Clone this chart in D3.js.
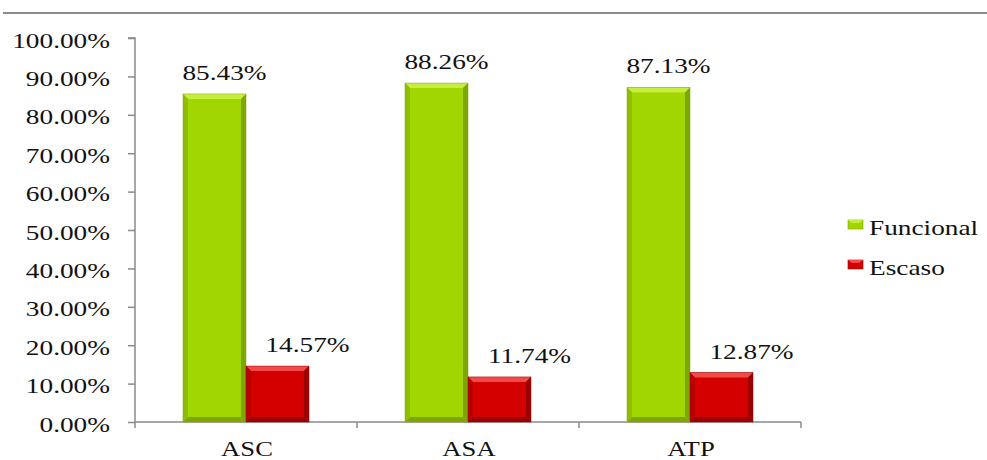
<!DOCTYPE html>
<html>
<head>
<meta charset="utf-8">
<script src="https://cdn.jsdelivr.net/npm/d3@7"></script>
<style>
  html, body { margin: 0; padding: 0; background: #fff; }
  svg { display: block; }
  svg text { font-family: "Times New Roman", "Liberation Serif", Tinos, serif !important; fill: #111; }
</style>
</head>
<body>
<svg id="chart" width="987" height="460"></svg>
<script>
// Data
const categories = ["ASC", "ASA", "ATP"];
const seriesNames = ["Funcional", "Escaso"];
const funcional = [85.43, 88.26, 87.13];
const escaso = [14.57, 11.74, 12.87];
const yTicks = [0, 10, 20, 30, 40, 50, 60, 70, 80, 90, 100];

const seriesValues = [funcional, escaso];
const colors = [
  { base: "#a2d600", light: "#c6ee40", dark: "#7ea600", side: "#8fbe00" },
  { base: "#d40000", light: "#f04a4a", dark: "#9a0000", side: "#b80000" }
];
const stretch = 1.3; // wide type

const svg = d3.select("#chart");

// Top rule
svg.append("line")
  .attr("x1", 3).attr("x2", 987).attr("y1", 13).attr("y2", 13)
  .attr("stroke", "#8a8a8a").attr("stroke-width", 2);

const plot = { left: 135, right: 801, top: 38, bottom: 422 };

const x0 = d3.scaleBand().domain(categories).range([plot.left, plot.right]).paddingInner(0).paddingOuter(0);
const x1 = d3.scaleBand().domain(seriesNames).range([48, x0.bandwidth() - 48]).padding(0);
const y = d3.scaleLinear().domain([0, 100]).range([plot.bottom, plot.top]);

// Y axis
const yAxis = d3.axisLeft(y).tickValues(yTicks).tickSize(7).tickFormat(d => d.toFixed(2) + "%");
const gy = svg.append("g").attr("transform", `translate(${plot.left},0)`).call(yAxis);
gy.attr("font-family", null);
gy.select(".domain").attr("stroke", "#8a8a8a").attr("stroke-width", 1.5).attr("d", `M-7,${plot.top}H0V${plot.bottom}`);
gy.selectAll(".tick line").attr("stroke", "#8a8a8a").attr("stroke-width", 1.5);
gy.selectAll(".tick text")
  .attr("x", 0).attr("dy", 9)
  .attr("text-anchor", "end")
  .attr("transform", `translate(-25,0) scale(${stretch},1)`)
  .style("font-size", "21px")
  .attr("fill", "#111");

// X axis
const xAxis = d3.axisBottom(x0).tickSize(0).tickPadding(0);
const gx = svg.append("g").attr("transform", `translate(0,${plot.bottom})`).call(xAxis);
gx.attr("font-family", null);
gx.select(".domain").attr("stroke", "#8a8a8a").attr("stroke-width", 1.5).attr("d", `M${plot.left},0H${plot.right}`);
gx.selectAll(".tick text")
  .attr("y", 0).attr("dy", 0)
  .attr("transform", `translate(1,34) scale(${stretch},1)`)
  .style("font-size", "20.5px")
  .attr("fill", "#111");
// category boundary ticks
const bounds = [plot.left].concat(categories.map(c => x0(c) + x0.bandwidth()));
gx.selectAll(".bound").data(bounds).join("line")
  .attr("x1", d => d).attr("x2", d => d).attr("y1", 0).attr("y2", 6)
  .attr("stroke", "#8a8a8a").attr("stroke-width", 1.5);

// Bars with bevelled edges
const bev = 5;
const barsG = svg.append("g");
categories.forEach((cat, ci) => {
  seriesNames.forEach((s, si) => {
    const v = seriesValues[si][ci];
    const bx = x0(cat) + x1(s);
    const bw = x1.bandwidth();
    const by = y(v);
    const bh = plot.bottom - by;
    const c = colors[si];
    const g = barsG.append("g");
    g.append("rect").attr("x", bx).attr("y", by).attr("width", bw).attr("height", bh).attr("fill", c.base);
    g.append("polygon").attr("points", [[bx, by], [bx + bw, by], [bx + bw - bev, by + bev], [bx + bev, by + bev]].join(" ")).attr("fill", c.light);
    g.append("polygon").attr("points", [[bx, by], [bx + bev, by + bev], [bx + bev, by + bh - bev], [bx, by + bh]].join(" ")).attr("fill", c.side);
    g.append("polygon").attr("points", [[bx + bw, by], [bx + bw - bev, by + bev], [bx + bw - bev, by + bh - bev], [bx + bw, by + bh]].join(" ")).attr("fill", c.dark);
    g.append("polygon").attr("points", [[bx, by + bh], [bx + bev, by + bh - bev], [bx + bw - bev, by + bh - bev], [bx + bw, by + bh]].join(" ")).attr("fill", c.dark);
    g.append("rect").attr("x", bx).attr("y", by).attr("width", bw).attr("height", bh)
      .attr("fill", "none").attr("stroke", c.dark).attr("stroke-width", 0.8).attr("stroke-opacity", 0.6);
    // value label
    const dx = si === 0 ? 10 : 30;
    svg.append("text")
      .attr("transform", `translate(${bx + bw / 2 + dx},${by - 14}) scale(${stretch},1)`)
      .attr("text-anchor", "middle")
      .style("font-size", "21px")
      .text(v.toFixed(2) + "%");
  });
});

// Legend
const legend = svg.append("g").attr("transform", "translate(848,220)");
seriesNames.forEach((s, i) => {
  const g = legend.append("g").attr("transform", `translate(0,${i * 40})`);
  const c = colors[i];
  g.append("rect").attr("x", 0).attr("y", 0).attr("width", 15).attr("height", 9).attr("fill", c.base).attr("stroke", c.dark).attr("stroke-width", 0.6);
  g.append("polygon").attr("points", "0,0 15,0 11,3 4,3").attr("fill", c.light);
  g.append("text").attr("transform", `translate(21,15) scale(${stretch},1)`).style("font-size", "21px").text(s);
});
</script>
</body>
</html>
